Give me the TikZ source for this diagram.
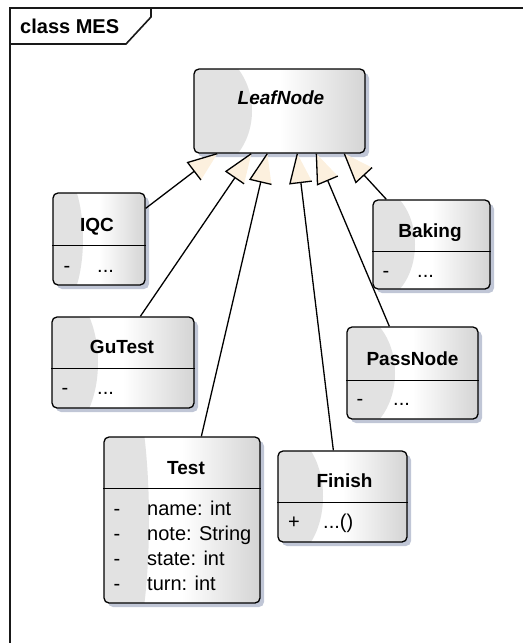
\documentclass[tikz,border=0pt]{standalone}
\usepackage{fontspec}
\setmainfont{Liberation Sans}
\usetikzlibrary{calc,shadows}

\definecolor{patchgray}{RGB}{226,226,226}
\definecolor{edgegray}{RGB}{212,212,212}
\definecolor{shadowcol}{RGB}{192,198,214}
\definecolor{cream}{RGB}{252,240,222}

\tikzset{
  umlbox/.style n args={4}{draw=black, line width=1.3pt, rounded corners=5pt,
    minimum width=#1pt, minimum height=#2pt, inner sep=0pt,
    left color=white, right color=edgegray, middle color=white,
    drop shadow={shadow xshift=4pt, shadow yshift=-4pt, fill=shadowcol, opacity=1},
    path picture={\fill[patchgray] (path picture bounding box.west)
      ellipse [x radius=#3pt, y radius=#4pt];}},
  sepline/.style={line width=1.3pt},
  link/.style={line width=1.3pt},
  clsname/.style={font=\fontsize{19}{22}\selectfont\bfseries, anchor=base, inner sep=0pt},
  vis/.style={font=\fontsize{20}{24}\selectfont, anchor=base, inner sep=0pt},
  attr/.style={font=\fontsize{20}{24}\selectfont, anchor=base west, inner sep=0pt},
  frameline/.style={line width=1.6pt, draw=black!90, line join=miter}
}

% generalization: plain line from the child, hollow triangle at the parent
\newcommand\genlink[2]{%
  \coordinate (gm) at ($(#2)!29pt!(#1)$);
  \coordinate (gl) at ($(gm)!11pt!90:(#2)$);
  \coordinate (gr) at ($(gm)!11pt!-90:(#2)$);
  \draw[link] (#1) -- (gm);
  \fill[cream] (#2) -- (gl) -- (gr) -- cycle;
  \draw[link, line join=miter] (gr) -- (gl) -- (#2);
}

\begin{document}
\begin{tikzpicture}[x=1pt, y=-1pt]
\useasboundingbox (0,0) rectangle (523,643);

% diagram frame and its tab
\draw[frameline] (10,643) -- (10,8) -- (523,8);
\draw[frameline] (10,44) -- (126,44) -- (151,17) -- (151,8);
\node[font=\fontsize{20}{22}\selectfont\bfseries, anchor=base west, inner sep=0pt] (frametitle) at (20,33) {class MES};

% classes
\node[umlbox={171}{84}{58}{65}] (leaf) at (279.5,111) {};
\node[font=\fontsize{19}{22}\selectfont\bfseries\itshape, anchor=base, inner sep=0pt] (leafname) at (281,104) {LeafNode};

\node[umlbox={92}{92}{30}{76}] (iqc) at (99,239) {};
\draw[sepline] ($(iqc.north west)+(0,53)$) -- ($(iqc.north east)+(0,53)$);
\node[clsname] (iqcname) at (97,231) {IQC};
\node[vis] (iqcv) at (67,272) {-};
\node[attr] (iqca) at (97,272) {...};

\node[umlbox={117}{89}{42}{58}] (baking) at (431.5,244.5) {};
\draw[sepline] ($(baking.north west)+(0,52)$) -- ($(baking.north east)+(0,52)$);
\node[clsname] (bakingname) at (430,237) {Baking};
\node[vis] (bakingv) at (386,277) {-};
\node[attr] (bakinga) at (417,277) {...};

\node[umlbox={142}{91}{46}{78}] (gutest) at (123,362.5) {};
\draw[sepline] ($(gutest.north west)+(0,52)$) -- ($(gutest.north east)+(0,52)$);
\node[clsname] (gutestname) at (122,353) {GuTest};
\node[vis] (gutestv) at (65,394) {-};
\node[attr] (gutesta) at (97,394) {...};

\node[umlbox={131}{92}{48}{63}] (passnode) at (412.5,373) {};
\draw[sepline] ($(passnode.north west)+(0,54)$) -- ($(passnode.north east)+(0,54)$);
\node[clsname] (passnodename) at (412.5,365) {PassNode};
\node[vis] (passnodev) at (360,405) {-};
\node[attr] (passnodea) at (393,405) {...};

\node[umlbox={156}{166}{45}{190}] (test) at (182,520) {};
\draw[sepline] ($(test.north west)+(0,52)$) -- ($(test.north east)+(0,52)$);
\node[clsname] (testname) at (186,474) {Test};
\node[vis] (testv1) at (117,515) {-};
\node[attr] (testa1) at (147,515) {name: int};
\node[vis] (testv2) at (117,540) {-};
\node[attr] (testa2) at (147,540) {note: String};
\node[vis] (testv3) at (117,565) {-};
\node[attr] (testa3) at (147,565) {state: int};
\node[vis] (testv4) at (117,590) {-};
\node[attr] (testa4) at (147,590) {turn: int};

\node[umlbox={129}{91}{45}{67}] (finish) at (342.5,496.5) {};
\draw[sepline] ($(finish.north west)+(0,52)$) -- ($(finish.north east)+(0,52)$);
\node[clsname] (finishname) at (344.5,487) {Finish};
\node[vis] (finishv) at (294,528) {+};
\node[attr] (finisha) at (323,528) {...()};

% connector end points
\coordinate (tipiqc)  at ($(leaf.south west)+(24,0)$);
\coordinate (tipgu)   at ($(leaf.south west)+(58,0)$);
\coordinate (tiptest) at ($(leaf.south west)+(74,0)$);
\coordinate (tipfin)  at ($(leaf.south west)+(104,0)$);
\coordinate (tippass) at ($(leaf.south west)+(123,0)$);
\coordinate (tipbak)  at ($(leaf.south west)+(151,0)$);

\coordinate (tailiqc)  at ($(iqc.north east)+(0,16)$);
\coordinate (tailgu)   at ($(gutest.north west)+(89,0)$);
\coordinate (tailtest) at ($(test.north west)+(98,0)$);
\coordinate (tailfin)  at ($(finish.north west)+(56,0)$);
\coordinate (tailpass) at ($(passnode.north west)+(43,0)$);
\coordinate (tailbak)  at ($(baking.north west)+(14,0)$);

\genlink{tailiqc}{tipiqc}
\genlink{tailgu}{tipgu}
\genlink{tailtest}{tiptest}
\genlink{tailfin}{tipfin}
\genlink{tailpass}{tippass}
\genlink{tailbak}{tipbak}
\end{tikzpicture}
\end{document}
